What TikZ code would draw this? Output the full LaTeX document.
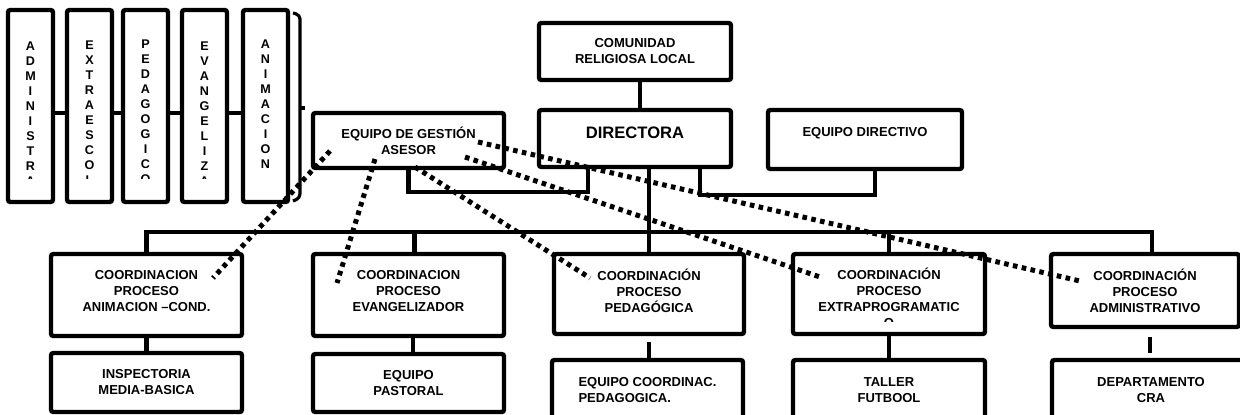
\documentclass[tikz,border=0pt]{standalone}
\usepackage{fontspec}
\setmainfont{Liberation Sans}
\usepackage{tikz}

\begin{document}
\begin{tikzpicture}[x=0.5pt,y=0.5pt,
  box/.style={draw,line width=2.2pt,rounded corners=1.2pt,inner sep=0pt,align=center,
    font=\fontsize{6.5}{8}\selectfont\bfseries},
  conn/.style={line width=2.2pt},
  dots/.style={line width=2.5pt,dash pattern=on 2.3pt off 2.2pt},
  letters/.style={inner sep=0pt,align=center,anchor=north,
    font=\fontsize{6.3}{7.5}\selectfont\bfseries}]
  \useasboundingbox (0,0) rectangle (1240,414);

  % procesos (cajas verticales)
  \foreach \n/\x in {adm/30.5,ext/89.5,ped/145.5,eva/204.5,ani/265.5}
    \node[box,minimum width=22.5pt,minimum height=96pt] (\n) at (\x,308) {};
  \begin{scope}
    \clip (0,236) rectangle (295,404);
    \node[letters] (admtxt) at (30.5,373) {A\\D\\M\\I\\N\\I\\S\\T\\R\\A};
    \node[letters] (exttxt) at (89.5,374) {E\\X\\T\\R\\A\\E\\S\\C\\O\\L};
    \node[letters] (pedtxt) at (145.5,375) {P\\E\\D\\A\\G\\O\\G\\I\\C\\O};
    \node[letters] (evatxt) at (204.5,373) {E\\V\\A\\N\\G\\E\\L\\I\\Z\\A};
    \node[letters] (anitxt) at (265.5,375) {A\\N\\I\\M\\A\\C\\I\\O\\N};
  \end{scope}
  \foreach \a/\b in {adm/ext,ext/ped,ped/eva,eva/ani}
    \draw[conn] ([yshift=-3.5pt]\a.east) -- ([yshift=-3.5pt]\b.west);
  \draw[line width=1.6pt,rounded corners=2pt] (293,401) -- (300,399) -- (300,216) -- (293,213);
  \draw[line width=1.6pt] (300,306) -- (305,306);

  % direccion
  \node[box,minimum width=96pt,minimum height=28.5pt] (comunidad) at (635,362.5) {COMUNIDAD\\RELIGIOSA LOCAL};
  \node[box,minimum width=96pt,minimum height=28.5pt,font=\fontsize{8.3}{10}\selectfont\bfseries,
    text height=5.9pt,text depth=5.5pt] (directora) at (635,275.5) {DIRECTORA};
  \node[box,minimum width=95.5pt,minimum height=27.5pt] (gestion) at (408.5,273.5) {EQUIPO DE GESTIÓN\\ASESOR};
  \node[box,minimum width=97pt,minimum height=29.5pt,text height=4.7pt,text depth=7.5pt] (directivo) at (865,274.5) {EQUIPO DIRECTIVO};

  % coordinaciones
  \node[box,minimum width=95.5pt,minimum height=41pt,text depth=4pt] (anim) at (146.5,119) {COORDINACION\\PROCESO\\ANIMACION –COND.};
  \node[box,minimum width=95.5pt,minimum height=41pt,text depth=4pt] (evang) at (408.5,119) {COORDINACION\\PROCESO\\EVANGELIZADOR};
  \node[box,minimum width=95pt,minimum height=40pt,text depth=3pt] (pedag) at (649,120) {COORDINACIÓN\\PROCESO\\PEDAGÓGICA};
  \node[box,minimum width=96pt,minimum height=40pt] (extra) at (889,120) {};
  \begin{scope}
    \clip (793,93) rectangle (985,160);
    \node[box,draw=none] (extratxt) at (889,116) {COORDINACIÓN\\PROCESO\\EXTRAPROGRAMATIC\\O};
  \end{scope}
  \node[box,minimum width=94pt,minimum height=36.5pt] (admin) at (1145,123.5) {COORDINACIÓN\\PROCESO\\ADMINISTRATIVO};

  % equipos
  \node[box,minimum width=95.5pt,minimum height=29.5pt] (inspect) at (146.5,31.5) {INSPECTORIA\\MEDIA-BASICA};
  \node[box,minimum width=95.5pt,minimum height=29pt] (pastoral) at (408.5,31) {EQUIPO\\PASTORAL};
  \node[box,minimum width=95.5pt,minimum height=30pt,align=left] (coordped) at (647.5,24) {EQUIPO COORDINAC.\\PEDAGOGICA.};
  \node[box,minimum width=96pt,minimum height=30pt] (taller) at (889,24) {TALLER\\FUTBOOL};
  \node[box,minimum width=99pt,minimum height=30pt] (depto) at (1151,24) {DEPARTAMENTO\\CRA};

  % lineas de mando
  \coordinate (bus) at (0,182);
  \coordinate (jg) at ([xshift=-23.5pt]directora.south);
  \coordinate (jd) at ([xshift=32.5pt]directora.south);
  \coordinate (kd) at ([xshift=5pt]directivo.south);
  \coordinate (d2) at ([xshift=3pt]evang.north);
  \coordinate (d5) at ([xshift=3.5pt]admin.north);
  \coordinate (ke) at ([xshift=2.25pt]evang.south);
  \coordinate (ka) at ([xshift=2.5pt]admin.south);
  \draw[conn] ([xshift=2.5pt]comunidad.south) -- ([xshift=2.5pt]directora.north);
  \draw[conn] (gestion.south) -- ++(0,-22) -| (jg);
  \draw[conn] (kd) -- ++(0,-24) -| (jd);
  \draw[conn] (directora.south -| pedag.north) -- (pedag.north);
  \draw[conn] (anim.north) |- (d5 |- bus) -- (d5);
  \draw[conn] (d2 |- bus) -- (d2);
  \draw[conn] (extra.north |- bus) -- (extra.north);
  \draw[conn] (anim.south) -- (inspect.north);
  \draw[conn] (ke) -- (ke |- pastoral.north);
  \draw[conn,shorten <=3pt] (pedag.south) -- (pedag.south |- coordped.north);
  \draw[conn] (extra.south) -- (taller.north);
  \draw[conn,shorten <=4pt,shorten >=2.5pt] (ka) -- (ka |- depto.north);

  % asesoria (punteado)
  \foreach \gs/\t/\ts in {{-78.5,-10.5}/anim/{66.5,17},{-33.5,-18.5}/evang/{-71.5,12},
      {6.5,-26.5}/pedag/{-59,16},{56.5,-16.5}/extra/{-66,16},{69.5,-1.5}/admin/{-65,9.5}}
    \draw[dots] ([shift={(\gs)}]gestion.center) -- ([shift={(\ts)}]\t.center);
\end{tikzpicture}
\end{document}
